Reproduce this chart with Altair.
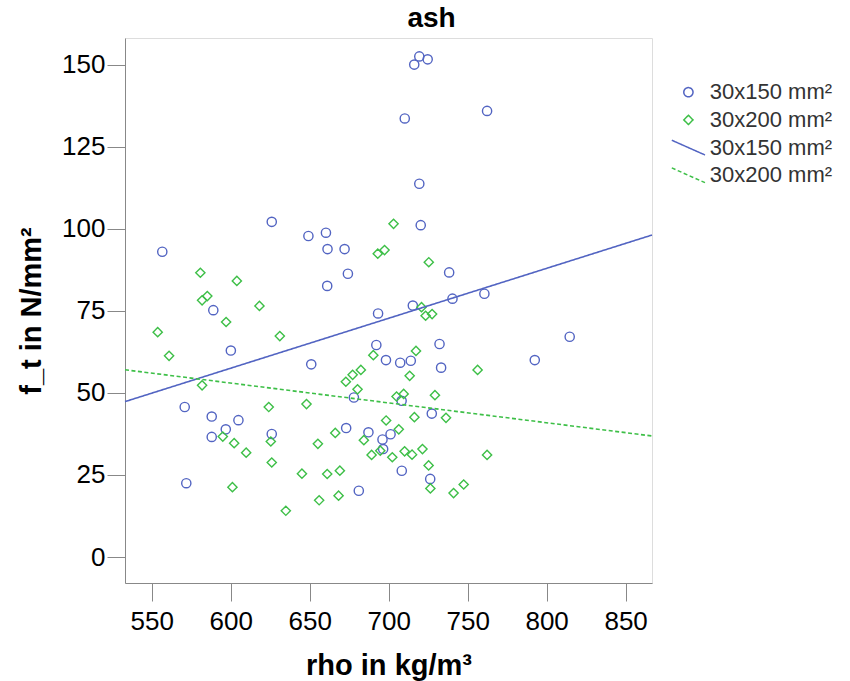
import altair as alt
import pandas as pd

FONT = "Liberation Sans"
BLUE = "#5264C2"
GREEN = "#3DBF47"

series_names = ["30x150 mm²", "30x200 mm²"]

# 30x150 mm² (circles)
blue_rho = [716.2, 719.4, 724.7, 710.2, 762.3, 719.4, 626.0, 720.3, 556.7, 649.2,
            660.3, 661.3, 672.1, 674.2, 661.1, 738.3, 740.4, 760.6, 715.3, 693.3,
            589.0, 600.1, 651.0, 692.2, 698.3, 707.3, 714.0, 732.2, 733.2, 814.6,
            792.5, 570.9, 588.0, 596.9, 604.9, 588.0, 626.0, 571.9, 673.1, 687.2,
            678.0, 708.2, 696.1, 701.2, 696.5, 708.3, 681.1, 727.3, 726.3]
blue_ft = [150.0, 152.5, 151.6, 133.6, 135.9, 113.7, 102.1, 101.1, 93.0, 97.8,
           98.8, 93.8, 93.8, 86.3, 82.6, 86.7, 78.7, 80.2, 76.6, 74.2,
           75.2, 62.9, 58.7, 64.6, 60.0, 59.2, 59.8, 64.9, 57.7, 67.1,
           60.0, 45.7, 42.8, 38.9, 41.7, 36.6, 37.5, 22.5, 39.3, 38.0,
           48.6, 47.6, 35.8, 37.4, 32.9, 26.3, 20.2, 43.7, 23.8]

# 30x200 mm² (diamonds)
green_rho = [703.1, 693.1, 697.4, 725.4, 580.8, 603.9, 581.9, 585.2, 618.2, 553.8,
             597.1, 631.1, 561.0, 581.9, 624.1, 648.0, 595.0, 602.2, 609.8, 625.4,
             626.0, 645.1, 601.1, 634.9, 656.0, 661.1, 669.1, 668.3, 655.2, 666.2,
             684.3, 689.2, 694.7, 698.4, 706.4, 702.3, 710.1, 714.8, 690.3, 672.9,
             677.2, 682.4, 680.3, 705.0, 709.5, 713.3, 720.8, 723.4, 727.5, 717.3,
             756.3, 729.3, 716.3, 736.3, 721.4, 725.3, 762.3, 726.4, 741.1, 747.5]
green_ft = [101.5, 92.4, 93.5, 89.8, 86.6, 84.1, 78.2, 79.5, 76.5, 68.5,
            71.6, 67.3, 61.3, 52.3, 45.7, 46.6, 36.7, 34.7, 31.8, 35.2,
            28.8, 25.4, 21.3, 14.1, 17.3, 25.3, 26.3, 18.7, 34.5, 37.8,
            35.6, 31.1, 32.4, 41.6, 38.9, 30.4, 32.2, 31.2, 61.5, 53.4,
            55.5, 57.0, 51.1, 48.9, 49.7, 55.2, 76.1, 73.5, 74.0, 62.8,
            57.0, 49.3, 42.6, 42.4, 32.9, 27.9, 31.1, 20.9, 19.5, 22.1]

x_ticks = [550, 600, 650, 700, 750, 800, 850]
y_ticks = [0, 25, 50, 75, 100, 125, 150]
x_domain = [533.1, 866.7]
y_domain = [-7.9, 158.1]

fit_names = ["fit " + s for s in series_names]
keys = series_names + fit_names
LINE_SYMBOL = "M-3.6,-1.6L3.6,1.6"

df = pd.concat([
    pd.DataFrame({"rho": blue_rho, "ft": blue_ft, "key": series_names[0]}),
    pd.DataFrame({"rho": green_rho, "ft": green_ft, "key": series_names[1]}),
], ignore_index=True)

x_scale = alt.Scale(domain=x_domain, nice=False, zero=False)
y_scale = alt.Scale(domain=y_domain, nice=False, zero=False)
color_scale = alt.Scale(domain=keys, range=[BLUE, GREEN, BLUE, GREEN])
shape_scale = alt.Scale(domain=keys, range=["circle", "diamond", LINE_SYMBOL, LINE_SYMBOL])
dash_scale = alt.Scale(domain=keys, range=[[1, 0], [1, 0], [1, 0], [4, 2.5]])

x_axis = alt.Axis(values=x_ticks, title="rho in kg/m³", grid=False, tickSize=18,
                  labelFontSize=26, labelPadding=7, labelFlush=False,
                  titleFontSize=29, titleFontWeight="bold", titleY=91,
                  titleBaseline="alphabetic")
y_axis = alt.Axis(values=y_ticks, title="f_t in N/mm²", grid=False, tickSize=18,
                  labelFontSize=26, labelPadding=2, labelFlush=False,
                  titleFontSize=29, titleFontWeight="bold", titleX=-85, titleY=272.5,
                  titleAngle=270, titleBaseline="alphabetic", titleAlign="center")

legend = alt.Legend(title=None, orient="none", legendX=552.4, legendY=43.2,
                    labelFontSize=22, labelColor="#333333", labelFont=FONT,
                    labelOffset=10.4, rowPadding=5.7, padding=0, symbolSize=85,
                    symbolStrokeWidth=1.5,
                    labelExpr="replace(datum.label, 'fit ', '')")

points = alt.Chart(df).mark_point(filled=False, size=85, strokeWidth=1.4, opacity=1).encode(
    x=alt.X("rho:Q", scale=x_scale, axis=x_axis),
    y=alt.Y("ft:Q", scale=y_scale, axis=y_axis),
    color=alt.Color("key:N", scale=color_scale, legend=legend),
    shape=alt.Shape("key:N", scale=shape_scale, legend=legend),
)

lines = alt.Chart(df).transform_regression(
    "rho", "ft", groupby=["key"], extent=x_domain
).transform_calculate(
    key="'fit ' + datum.key"
).mark_line(strokeWidth=1.6).encode(
    x=alt.X("rho:Q", scale=x_scale, axis=x_axis),
    y=alt.Y("ft:Q", scale=y_scale, axis=y_axis),
    color=alt.Color("key:N", scale=color_scale, legend=legend),
    strokeDash=alt.StrokeDash("key:N", scale=dash_scale, legend=legend),
)

chart = alt.layer(points, lines).properties(
    width=527, height=545,
    title=alt.TitleParams("ash", fontSize=28, fontWeight="bold", anchor="middle", dx=43,
                          dy=27, offset=10, frame="group", baseline="alphabetic",
                          color="#000000", font=FONT),
    autosize=alt.AutoSizeParams(type="none"),
    padding={"left": 125, "top": 38, "right": 198, "bottom": 98},
).configure_view(
    stroke="#505050", strokeWidth=1.8
).configure_axis(
    labelFont=FONT, titleFont=FONT, labelColor="#1a1a1a", titleColor="#000000",
    domainColor="#111111", domainWidth=1.8, tickColor="#444444", tickWidth=1.5
).configure(background="white")

chart.save("out.html", embed_options={"renderer": "svg", "actions": False})
